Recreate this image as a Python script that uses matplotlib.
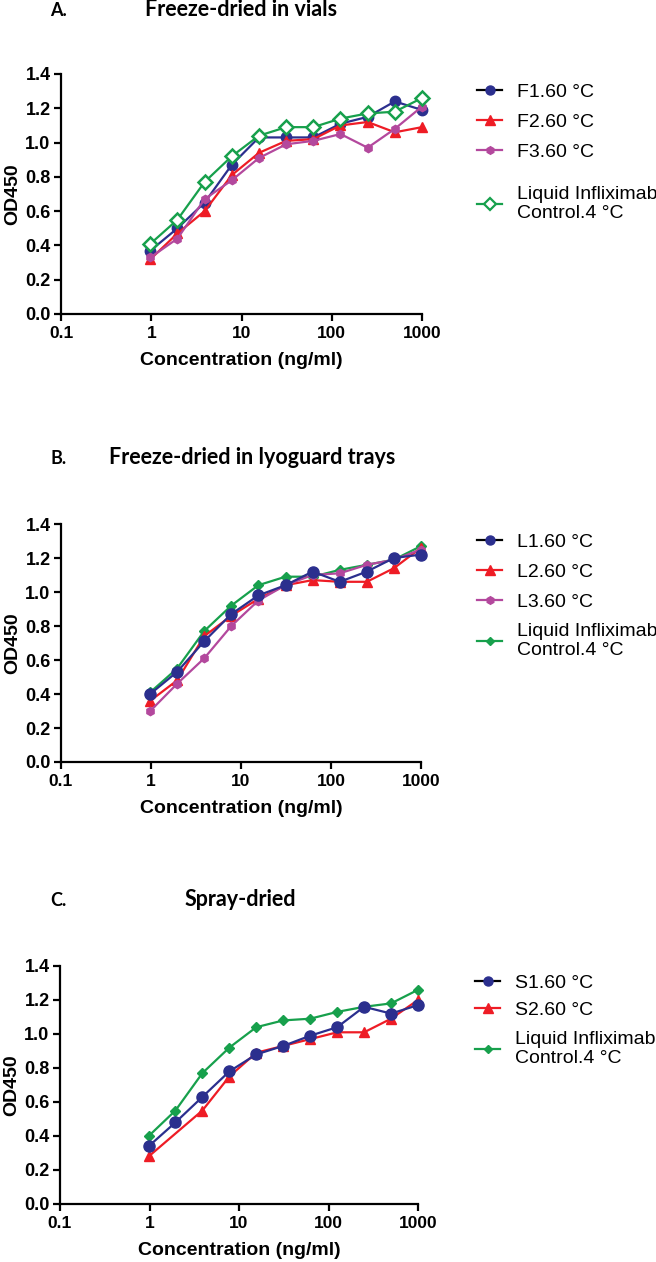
import matplotlib
matplotlib.use("Agg")
import matplotlib.pyplot as plt
from matplotlib.lines import Line2D

# ---------------- data ----------------
conc = [0.98, 1.95, 3.9, 7.8, 15.6, 31.25, 62.5, 125, 250, 500, 1000]

# Panel A: freeze-dried in vials
a_f1 = [0.37, 0.50, 0.65, 0.87, 1.03, 1.03, 1.03, 1.11, 1.15, 1.24, 1.19]
a_f2 = [0.32, 0.47, 0.60, 0.81, 0.94, 1.01, 1.02, 1.10, 1.12, 1.06, 1.09]
a_f3 = [0.33, 0.44, 0.67, 0.78, 0.91, 0.99, 1.01, 1.05, 0.97, 1.08, 1.21]
a_ctrl = [0.41, 0.55, 0.77, 0.92, 1.04, 1.09, 1.09, 1.14, 1.17, 1.18, 1.26]

# Panel B: freeze-dried in lyoguard trays
b_l1 = [0.40, 0.53, 0.71, 0.87, 0.98, 1.04, 1.12, 1.06, 1.12, 1.20, 1.22]
b_l2 = [0.36, 0.48, 0.74, 0.86, 0.96, 1.04, 1.07, 1.06, 1.06, 1.14, 1.26]
b_l3 = [0.30, 0.46, 0.61, 0.80, 0.95, 1.04, 1.10, 1.11, 1.16, 1.19, 1.25]
b_ctrl = [0.41, 0.55, 0.77, 0.92, 1.04, 1.09, 1.09, 1.13, 1.16, 1.19, 1.27]

# Panel C: spray-dried
c_s1 = [0.34, 0.48, 0.63, 0.78, 0.88, 0.93, 0.99, 1.04, 1.16, 1.12, 1.17]
c_s2_conc = [0.98, 3.9, 7.8, 15.6, 31.25, 62.5, 125, 250, 500, 1000]
c_s2 = [0.28, 0.55, 0.75, 0.89, 0.93, 0.97, 1.01, 1.01, 1.09, 1.20]
c_ctrl = [0.40, 0.55, 0.77, 0.92, 1.04, 1.08, 1.09, 1.13, 1.16, 1.18, 1.26]

xticks = [0.1, 1, 10, 100, 1000]
xticklabels = ["0.1", "1", "10", "100", "1000"]
yticks = [0.0, 0.2, 0.4, 0.6, 0.8, 1.0, 1.2, 1.4]

panel_letters = ["A.", "B.", "C."]
panel_titles = ["Freeze-dried in vials", "Freeze-dried in lyoguard trays", "Spray-dried"]
ctrl_label = "Liquid Infliximab\nControl.4 °C"

# ---------------- style ----------------
BLUE = "#2B2F8E"
RED = "#EE1C25"
PURPLE = "#B3489D"
GREEN = "#17A04C"
W, H = 656, 1262
plt.rcParams["font.family"] = ["Liberation Sans", "DejaVu Sans"]

fig = plt.figure(figsize=(W / 100, H / 100), dpi=100)


def fx(px):
    return px / W


def fy(py):
    return 1 - py / H


def make_axes(left, right, top, bottom):
    return fig.add_axes([fx(left), fy(bottom), fx(right - left), (bottom - top) / H])


def style_axes(ax):
    ax.set_xscale("log")
    ax.set_xlim(0.1, 1000)
    ax.set_ylim(0, 1.4)
    ax.set_xticks(xticks)
    ax.set_xticklabels(xticklabels)
    ax.minorticks_off()
    ax.set_yticks(yticks)
    ax.set_yticklabels([f"{v:.1f}" for v in yticks])
    for s in ["top", "right"]:
        ax.spines[s].set_visible(False)
    for s in ["left", "bottom"]:
        ax.spines[s].set_linewidth(1.6)
    ax.tick_params(direction="out", length=5, width=1.6, pad=2.5)
    ax.tick_params(axis="y", labelsize=13)
    ax.tick_params(axis="x", labelsize=12.5, pad=3.5)
    for lab in ax.get_xticklabels() + ax.get_yticklabels():
        lab.set_fontweight("bold")
    ax.set_xlabel("Concentration (ng/ml)", fontsize=14, fontweight="bold", labelpad=8)
    ax.set_ylabel("OD450", fontsize=14, fontweight="bold", labelpad=3)


def plot_series(ax, x, y, color, marker, ms, mfc=None, mew=1.0):
    ax.plot(x, y, color=color, marker=marker, markersize=ms, lw=1.6,
            markerfacecolor=mfc if mfc else color, markeredgecolor=color,
            markeredgewidth=mew, clip_on=False)


def handle(line_color, color, marker, ms, mfc=None, mew=1.0):
    return Line2D([], [], color=line_color, lw=1.6, marker=marker, markersize=ms,
                  markerfacecolor=mfc if mfc else color, markeredgecolor=color,
                  markeredgewidth=mew)


def add_legends(ax, handles, labels, ctrl_handle, rows_center, pitch, ctrl_center, x0=477):
    fs = 14
    lab_sp = (pitch - 17.7) / (fs * 100 / 72)
    leg1 = ax.legend(handles, labels, loc="center left",
                     bbox_to_anchor=(fx(x0), fy(rows_center)), bbox_transform=fig.transFigure,
                     frameon=False, fontsize=fs, handlelength=1.3, handletextpad=0.75,
                     labelspacing=lab_sp, borderpad=0, borderaxespad=0)
    ax.add_artist(leg1)
    ax.legend([ctrl_handle], [ctrl_label], loc="center left",
              bbox_to_anchor=(fx(x0), fy(ctrl_center)), bbox_transform=fig.transFigure,
              frameon=False, fontsize=fs, handlelength=1.3, handletextpad=0.75,
              borderpad=0, borderaxespad=0)


def add_titles(idx, y, title_cx):
    fig.text(fx(50), fy(y), panel_letters[idx], fontsize=13, fontweight="bold",
             family=["Lato", "DejaVu Sans"], va="center", ha="left")
    fig.text(fx(title_cx), fy(y), panel_titles[idx], fontsize=15.5, fontweight="bold",
             family=["Lato", "DejaVu Sans"], va="center", ha="center")


# ---------------- Panel A ----------------
axA = make_axes(61, 422, 74, 314)
style_axes(axA)
plot_series(axA, conc, a_f1, BLUE, "o", 7.5)
plot_series(axA, conc, a_f2, RED, "^", 7)
plot_series(axA, conc, a_f3, PURPLE, "h", 6)
plot_series(axA, conc, a_ctrl, GREEN, "D", 7, mfc="white", mew=1.8)
add_titles(0, 10, 241)
add_legends(axA,
            [handle("black", BLUE, "o", 6.5), handle(RED, RED, "^", 6.5), handle(PURPLE, PURPLE, "h", 5.5)],
            ["F1.60 °C", "F2.60 °C", "F3.60 °C"],
            handle(GREEN, GREEN, "D", 6, mfc="white", mew=1.6),
            122, 30, 204)

# ---------------- Panel B ----------------
axB = make_axes(61, 421, 524, 762)
style_axes(axB)
plot_series(axB, conc, b_ctrl, GREEN, "D", 5)
plot_series(axB, conc, b_l2, RED, "^", 7)
plot_series(axB, conc, b_l3, PURPLE, "h", 6)
plot_series(axB, conc, b_l1, BLUE, "o", 8)
add_titles(1, 458, 252)
add_legends(axB,
            [handle("black", BLUE, "o", 6.5), handle(RED, RED, "^", 6.5), handle(PURPLE, PURPLE, "h", 5.5)],
            ["L1.60 °C", "L2.60 °C", "L3.60 °C"],
            handle(GREEN, GREEN, "D", 4.5),
            572, 30, 641)

# ---------------- Panel C ----------------
axC = make_axes(60, 418, 966, 1204)
style_axes(axC)
plot_series(axC, conc, c_ctrl, GREEN, "D", 5)
plot_series(axC, c_s2_conc, c_s2, RED, "^", 7)
plot_series(axC, conc, c_s1, BLUE, "o", 8)
add_titles(2, 900, 240)
add_legends(axC,
            [handle("black", BLUE, "o", 6.5), handle(RED, RED, "^", 6.5)],
            ["S1.60 °C", "S2.60 °C"],
            handle(GREEN, GREEN, "D", 4.5),
            996.5, 27, 1049, x0=475)

fig.savefig("out.png", dpi=100)
